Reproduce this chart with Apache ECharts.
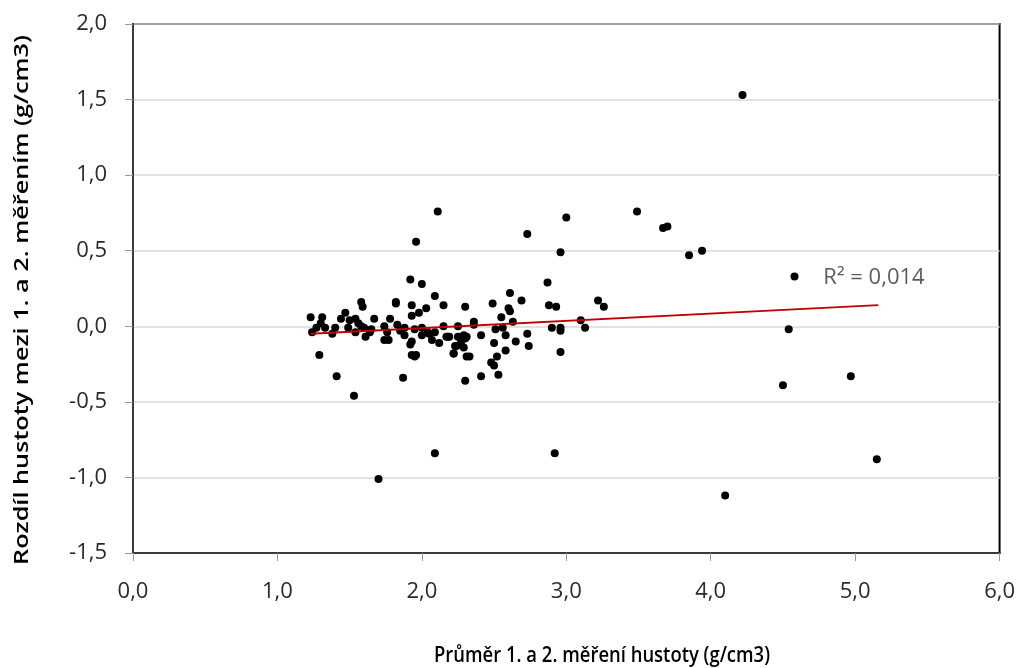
<!DOCTYPE html>
<html>
<head>
<meta charset="utf-8">
<script src="https://cdn.jsdelivr.net/npm/echarts@6/dist/echarts.min.js"></script>
<style>html,body{margin:0;padding:0;background:#fff}#c{width:1018px;height:668px}</style>
</head>
<body>
<div id="c"></div>
<script>
// Average of 1st and 2nd measurement (x) and difference (y)
const xValues = [
  4.22, 3.49, 3.67, 3.70, 3.85, 3.94, 4.58, 4.54, 4.50, 4.97, 5.15, 4.10,
  3.00, 2.73, 2.96, 2.11, 1.96, 1.70, 2.09, 2.92, 1.53, 1.41, 1.29, 1.87,
  2.30, 2.41, 2.48, 2.50, 2.53,
  1.92, 2.00, 2.09, 2.15, 2.30, 1.58, 1.59, 1.82, 1.82, 1.93, 2.03, 1.93, 1.98,
  1.23, 1.31, 1.30, 1.47, 1.44, 1.50, 1.54, 1.56, 1.67, 1.78,
  1.24, 1.27, 1.33, 1.38, 1.40, 1.49, 1.54, 1.58, 1.60, 1.61, 1.64, 1.65,
  1.74, 1.74, 1.77, 1.76, 1.83, 1.85, 1.88, 1.88,
  1.92, 1.93, 1.93, 1.95, 1.96, 1.95, 2.00, 2.00, 2.04, 2.05, 2.07, 2.12, 2.09,
  2.15, 2.17, 2.19, 2.22, 2.24, 2.25, 2.29, 2.30, 2.31,
  2.87, 2.61, 2.69, 2.88, 2.93, 3.22, 3.26, 2.49, 2.60, 2.61, 2.55, 2.36, 2.36,
  2.63, 3.10, 3.13, 2.90, 2.96, 2.96, 2.51, 2.56, 2.18, 2.25, 2.29, 2.31, 2.41,
  2.58, 2.73, 2.65, 2.74, 2.23, 2.29, 2.22, 2.27, 2.50, 2.58, 2.52, 2.33, 2.96
];
const yValues = [
  1.53, 0.76, 0.65, 0.66, 0.47, 0.50, 0.33, -0.02, -0.39, -0.33, -0.88, -1.12,
  0.72, 0.61, 0.49, 0.76, 0.56, -1.01, -0.84, -0.84, -0.46, -0.33, -0.19, -0.34,
  -0.36, -0.33, -0.24, -0.26, -0.32,
  0.31, 0.28, 0.20, 0.14, 0.13, 0.16, 0.13, 0.15, 0.16, 0.14, 0.12, 0.07, 0.09,
  0.06, 0.06, 0.02, 0.09, 0.05, 0.04, 0.05, 0.02, 0.05, 0.05,
  -0.04, -0.01, -0.01, -0.05, -0.01, -0.01, -0.04, 0.00, -0.01, -0.07, -0.04, -0.02,
  0.00, -0.09, -0.09, -0.04, 0.01, -0.03, -0.01, -0.06,
  -0.12, -0.10, -0.19, -0.20, -0.19, -0.02, -0.01, -0.06, -0.04, -0.05, -0.09, -0.11, -0.04,
  0.00, -0.07, -0.07, -0.18, -0.13, 0.00, -0.07, -0.08, -0.20,
  0.29, 0.22, 0.17, 0.14, 0.13, 0.17, 0.13, 0.15, 0.12, 0.10, 0.06, 0.03, 0.01,
  0.03, 0.04, -0.01, -0.01, -0.01, -0.03, -0.02, -0.01, -0.07, -0.07, -0.06, -0.07, -0.06,
  -0.06, -0.05, -0.10, -0.13, -0.13, -0.14, -0.18, -0.11, -0.11, -0.16, -0.20, -0.20, -0.17
];
// Linear trend line endpoints (as drawn)
const trendX = [1.23, 5.16];
const trendY = [-0.05, 0.14];
const r2Text = 'R\u00b2 = 0,014';
const r2Pos = [4.78, 0.32];

const xTitle = 'Průměr 1. a 2. měření hustoty (g/cm3)';
const yTitle = 'Rozdíl hustoty mezi 1. a 2. měřením (g/cm3)';

const fmt = v => v.toFixed(1).replace('.', ',');
const FONT = '"Open Sans", sans-serif';

function measure(text, font) {
  const ctx = document.createElement('canvas').getContext('2d');
  ctx.font = font;
  return ctx.measureText(text).width;
}
const titleSize = 19;
const titleFont = '600 ' + titleSize + 'px "Open Sans"';
const yTitleScale = 530 / measure(yTitle, titleFont);
const xTitleScale = 336 / measure(xTitle, titleFont);

const chart = echarts.init(document.getElementById('c'));
chart.setOption({
  animation: false,
  backgroundColor: '#fff',
  grid: { left: 133, right: 18, top: 24, bottom: 115, show: true,
          borderColor: '#000', borderWidth: 2, backgroundColor: 'transparent' },
  xAxis: {
    type: 'value', min: 0, max: 6, interval: 1,
    axisLine: { show: true, onZero: false, lineStyle: { color: '#3a3a3a', width: 2 } },
    axisTick: { show: true, length: 8, lineStyle: { color: '#999' } },
    axisLabel: { formatter: fmt, fontFamily: FONT, fontSize: 22, color: '#2a2a2a', margin: 28 },
    splitLine: { show: false }
  },
  yAxis: {
    type: 'value', min: -1.5, max: 2, interval: 0.5,
    axisLine: { show: true, onZero: false, lineStyle: { color: '#3a3a3a', width: 2 } },
    axisTick: { show: true, length: 8, lineStyle: { color: '#999' } },
    axisLabel: { formatter: fmt, fontFamily: FONT, fontSize: 22, color: '#2a2a2a', margin: 26 },
    splitLine: { show: true, lineStyle: { color: '#d9d9d9', width: 1.5 } }
  },
  graphic: [
    { type: 'text', x: 602, y: 656, scaleX: xTitleScale, scaleY: 1.15,
      style: { text: xTitle, font: titleFont, fill: '#000', align: 'center', verticalAlign: 'middle' } },
    { type: 'text', x: 22, y: 300, rotation: Math.PI / 2, scaleX: yTitleScale, scaleY: 1.05,
      style: { text: yTitle, font: titleFont, fill: '#000', align: 'center', verticalAlign: 'middle' } }
  ],
  series: [
    {
      type: 'scatter', symbol: 'circle', symbolSize: 8,
      itemStyle: { color: '#000', opacity: 1 },
      data: xValues.map((x, i) => [x, yValues[i]]),
      z: 3
    },
    {
      type: 'line', symbol: 'none',
      lineStyle: { color: '#c00000', width: 2 },
      data: trendX.map((x, i) => [x, trendY[i]]),
      z: 4
    },
    {
      type: 'scatter', symbolSize: 0, silent: true,
      data: [r2Pos],
      label: { show: true, position: 'right', distance: 0, formatter: r2Text,
               fontFamily: FONT, fontSize: 22, color: '#333' }
    }
  ]
});
</script>
</body>
</html>
